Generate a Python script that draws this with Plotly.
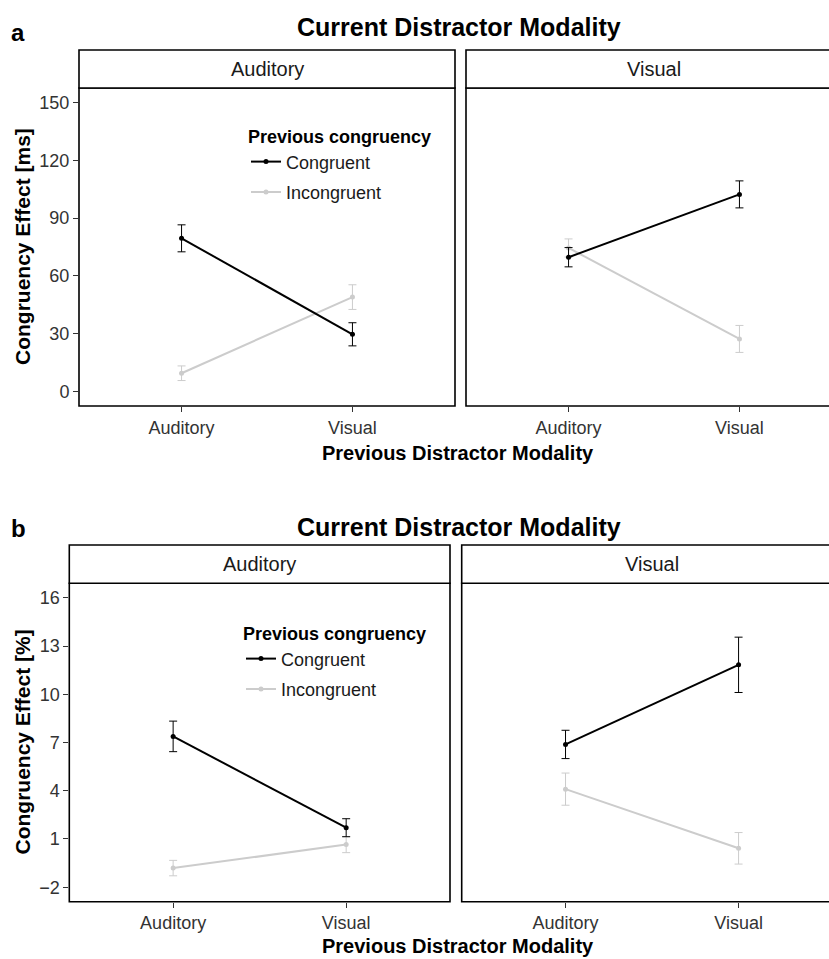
import plotly.graph_objects as go

# ---------------- data ----------------
categories = ["Auditory", "Visual"]
panel_names = ["Auditory", "Visual"]

# Panel a: congruency effect in RT [ms]
rt_cong_curA = [79.5, 29.7]
rt_cong_curA_err = [7.0, 6.0]
rt_incong_curA = [9.5, 49.0]
rt_incong_curA_err = [3.8, 6.4]
rt_cong_curV = [69.7, 102.3]
rt_cong_curV_err = [5.0, 7.0]
rt_incong_curV = [74.5, 27.3]
rt_incong_curV_err = [4.7, 7.0]

# Panel b: congruency effect in errors [%]
er_cong_curA = [7.38, 1.70]
er_cong_curA_err = [0.95, 0.56]
er_incong_curA = [-0.81, 0.65]
er_incong_curA_err = [0.48, 0.50]
er_cong_curV = [6.88, 11.83]
er_cong_curV_err = [0.88, 1.72]
er_incong_curV = [4.10, 0.42]
er_incong_curV_err = [1.00, 0.98]

rt_ticks = [0, 30, 60, 90, 120, 150]
er_ticks = [-2, 1, 4, 7, 10, 13, 16]

# ---------------- styling ----------------
W, H = 829, 959
FONT = "Liberation Sans, Arial, sans-serif"
BLACK = "#000000"
GREY = "#cccccc"
TICKCOL = "#333333"


def px(x):
    return x / W


def py(y):
    return 1 - y / H


fig = go.Figure()

# panel geometry (pixels)
panels = {
    "a": dict(left=(79, 455), right=(466, 842), top=88, bottom=406, strip=50),
    "b": dict(left=(69.3, 450), right=(461.7, 842.4), top=583.3, bottom=901.7, strip=545),
}


def add_series(xa, ya, y, err, color, name, legend, showlegend, rank):
    fig.add_trace(go.Scatter(
        x=categories, y=y, mode="lines+markers", name=name, legendgroup=name,
        line=dict(color=color, width=2), marker=dict(color=color, size=5),
        error_y=dict(type="data", array=err, visible=True, color=color, thickness=1, width=4),
        xaxis=xa, yaxis=ya, legend=legend, showlegend=showlegend, legendrank=rank,
    ))


# panel a
add_series("x", "y", rt_incong_curA, rt_incong_curA_err, GREY, "Incongruent", "legend", True, 2)
add_series("x", "y", rt_cong_curA, rt_cong_curA_err, BLACK, "Congruent", "legend", True, 1)
add_series("x2", "y2", rt_incong_curV, rt_incong_curV_err, GREY, "Incongruent", "legend", False, 2)
add_series("x2", "y2", rt_cong_curV, rt_cong_curV_err, BLACK, "Congruent", "legend", False, 1)
# panel b
add_series("x3", "y3", er_incong_curA, er_incong_curA_err, GREY, "Incongruent", "legend2", True, 2)
add_series("x3", "y3", er_cong_curA, er_cong_curA_err, BLACK, "Congruent", "legend2", True, 1)
add_series("x4", "y4", er_incong_curV, er_incong_curV_err, GREY, "Incongruent", "legend2", False, 2)
add_series("x4", "y4", er_cong_curV, er_cong_curV_err, BLACK, "Congruent", "legend2", False, 1)

shapes = []
annotations = []
layout_axes = {}

axis_ids = {"a": (("xaxis", "yaxis"), ("xaxis2", "yaxis2")),
            "b": (("xaxis3", "yaxis3"), ("xaxis4", "yaxis4"))}
yranges = {"a": [-7.5, 157.5], "b": [-2.9, 16.9]}
yticks = {"a": rt_ticks, "b": er_ticks}

for key, g in panels.items():
    for i, side in enumerate(["left", "right"]):
        x0, x1 = g[side]
        unit = (x1 - x0) / 2.2
        dom_x1 = min(x1, W)
        xr = [-0.6, -0.6 + (dom_x1 - x0) / unit]
        xname, yname = axis_ids[key][i]
        yref_anchor = yname.replace("axis", "")
        xref_anchor = xname.replace("axis", "")
        layout_axes[xname] = dict(
            domain=[px(x0), px(dom_x1)], anchor=yref_anchor, type="category",
            categoryorder="array", categoryarray=categories, range=xr,
            showgrid=False, zeroline=False, showline=False,
            ticks="outside", ticklen=5, tickwidth=1, tickcolor=TICKCOL,
            tickfont=dict(family=FONT, size=18, color=TICKCOL), automargin=False,
        )
        layout_axes[yname] = dict(
            domain=[py(g["bottom"]), py(g["top"])], anchor=xref_anchor, range=yranges[key],
            tickmode="array", tickvals=yticks[key],
            showgrid=False, zeroline=False, showline=False,
            ticks="outside" if side == "left" else "", ticklen=5, tickwidth=1,
            tickcolor=TICKCOL, showticklabels=(side == "left"),
            tickfont=dict(family=FONT, size=18, color=TICKCOL), automargin=False,
        )
        # panel border
        shapes.append(dict(type="rect", xref="paper", yref="paper",
                           x0=px(x0), x1=px(x1), y0=py(g["bottom"]), y1=py(g["top"]),
                           line=dict(color=BLACK, width=1.6), fillcolor="rgba(0,0,0,0)", layer="above"))
        # strip
        shapes.append(dict(type="rect", xref="paper", yref="paper",
                           x0=px(x0), x1=px(x1), y0=py(g["top"]), y1=py(g["strip"]),
                           line=dict(color=BLACK, width=1.6), fillcolor="white", layer="above"))
        annotations.append(dict(text=panel_names[i], xref="paper", yref="paper",
                                x=px((x0 + x1) / 2), y=py((g["top"] + g["strip"]) / 2),
                                showarrow=False, xanchor="center", yanchor="middle",
                                font=dict(family=FONT, size=20, color="#1a1a1a")))

# titles and labels
for key, ytitle, ttl_y, xt_y, ycenter, lab_y in [
    ("a", "Congruency Effect [ms]", 27, 453, 247, 33),
    ("b", "Congruency Effect [%]", 527, 946, 742.5, 528),
]:
    annotations.append(dict(text="<b>Current Distractor Modality</b>", xref="paper", yref="paper",
                            x=px(459), y=py(ttl_y), showarrow=False, xanchor="center", yanchor="middle",
                            font=dict(family=FONT, size=25, color=BLACK)))
    annotations.append(dict(text="<b>Previous Distractor Modality</b>", xref="paper", yref="paper",
                            x=px(458), y=py(xt_y), showarrow=False, xanchor="center", yanchor="middle",
                            font=dict(family=FONT, size=20, color=BLACK)))
    annotations.append(dict(text="<b>" + ytitle + "</b>", xref="paper", yref="paper",
                            x=px(22), y=py(ycenter), showarrow=False, textangle=-90,
                            xanchor="center", yanchor="middle",
                            font=dict(family=FONT, size=21, color=BLACK)))
    annotations.append(dict(text="<b>" + key + "</b>", xref="paper", yref="paper",
                            x=px(18), y=py(lab_y), showarrow=False, xanchor="center", yanchor="middle",
                            font=dict(family=FONT, size=24, color=BLACK)))

legend_common = dict(xanchor="left", yanchor="top", bgcolor="rgba(0,0,0,0)", borderwidth=0,
                     font=dict(family=FONT, size=18, color="#1a1a1a"), itemwidth=30,
                     traceorder="grouped", tracegroupgap=4)

fig.update_layout(
    width=W, height=H, margin=dict(l=0, r=0, t=0, b=0),
    paper_bgcolor="white", plot_bgcolor="white",
    showlegend=True,
    legend=dict(x=px(246), y=py(120),
                title=dict(text="<b>Previous congruency</b>", font=dict(family=FONT, size=18, color=BLACK)),
                **legend_common),
    legend2=dict(x=px(241), y=py(617),
                 title=dict(text="<b>Previous congruency</b>", font=dict(family=FONT, size=18, color=BLACK)),
                 **legend_common),
    shapes=shapes, annotations=annotations,
    **layout_axes,
)

fig.write_html("out.html", config={"displayModeBar": False},
               post_script="document.body.style.margin='0';document.body.style.overflow='hidden';")
